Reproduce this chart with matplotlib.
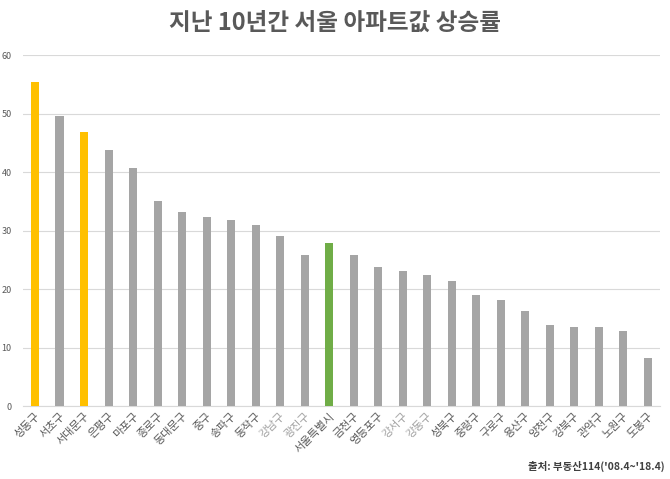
import matplotlib.pyplot as plt

plt.rcParams['font.family'] = ['Noto Sans CJK KR', 'DejaVu Sans']

districts = ['성동구', '서초구', '서대문구', '은평구', '마포구', '종로구', '동대문구', '중구',
             '송파구', '동작구', '강남구', '광진구', '서울특별시', '금천구', '영등포구', '강서구',
             '강동구', '성북구', '중랑구', '구로구', '용산구', '양천구', '강북구', '관악구',
             '노원구', '도봉구']
rates = [55.4, 49.6, 46.8, 43.8, 40.7, 35.1, 33.1, 32.4, 31.8, 31.0, 29.1, 25.8, 27.9,
         25.8, 23.8, 23.1, 22.4, 21.4, 19.0, 18.1, 16.3, 13.8, 13.5, 13.5, 12.8, 8.3]
highlight = ['성동구', '서대문구']
light_labels = ['강남구', '광진구', '강서구', '강동구']

colors = []
for d in districts:
    if d in highlight:
        colors.append('#FFC000')
    elif d == '서울특별시':
        colors.append('#70AD47')
    else:
        colors.append('#A5A5A5')

fig = plt.figure(figsize=(6.7, 4.79), dpi=100)
ax = fig.add_axes([0.034, 0.152, 0.951, 0.733])

x = range(len(districts))
ax.bar(x, rates, width=0.33, color=colors, zorder=3)

ax.set_xlim(-0.5, len(districts) - 0.5)
ax.set_ylim(0, 60)
ax.set_yticks(range(0, 61, 10))
ax.yaxis.grid(True, color='#D9D9D9', linewidth=0.8, zorder=0)
for s in ['top', 'right', 'left']:
    ax.spines[s].set_visible(False)
ax.spines['bottom'].set_color('#D9D9D9')
ax.tick_params(axis='both', length=0, labelsize=6.5, labelcolor='#595959')
ax.tick_params(axis='y', pad=8)

ax.set_xticks(list(x))
ax.set_xticklabels(districts, rotation=45, ha='right', rotation_mode='anchor', fontsize=8)
for lbl in ax.get_xticklabels():
    if lbl.get_text() in light_labels:
        lbl.set_color('#A0A0A0')

fig.text(0.5, 0.952, '지난 10년간 서울 아파트값 상승률', ha='center', va='center',
         fontsize=17, fontweight='bold', color='#595959')
fig.text(0.992, 0.027, "출처: 부동산114('08.4~'18.4)", ha='right', va='center',
         fontsize=7.5, fontweight='bold', color='#404040')

fig.savefig('out.png', dpi=100)
